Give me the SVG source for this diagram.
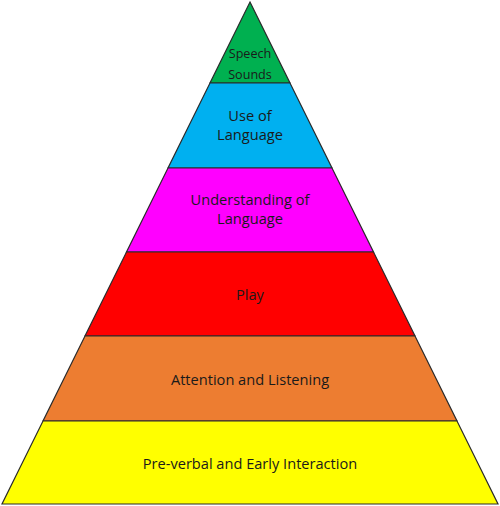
<svg xmlns="http://www.w3.org/2000/svg" width="500" height="506" viewBox="0 0 500 506">
<style>
.lvl{stroke:#2a2a2a;stroke-width:1.2;stroke-linejoin:miter}
text{font-family:"Open Sans","Liberation Sans",sans-serif;font-size:14.6px;fill:#1a1a1a;text-anchor:middle}
.sm{font-size:12.6px}
</style>
<rect width="500" height="506" fill="#ffffff"/>
<g id="speech-sounds">
<polygon class="lvl" points="250,2 290,83 210,83" fill="#00b050"/>
<text class="sm" x="250" y="58">Speech</text>
<text class="sm" x="250" y="79">Sounds</text>
</g>
<g id="use-of-language">
<polygon class="lvl" points="210,83 290,83 332,168 168,168" fill="#00b0f0"/>
<text x="250" y="121">Use of</text>
<text x="250" y="140">Language</text>
</g>
<g id="understanding-of-language">
<polygon class="lvl" points="168,168 332,168 373.5,252 126.5,252" fill="#ff00ff"/>
<text x="250" y="205">Understanding of</text>
<text x="250" y="224">Language</text>
</g>
<g id="play">
<polygon class="lvl" points="126.5,252 373.5,252 415,336 85,336" fill="#ff0000"/>
<text x="250" y="300">Play</text>
</g>
<g id="attention-and-listening">
<polygon class="lvl" points="85,336 415,336 457,421 43,421" fill="#ed7d31"/>
<text x="250" y="385">Attention and Listening</text>
</g>
<g id="pre-verbal">
<polygon class="lvl" points="43,421 457,421 498,504 2,504" fill="#ffff00"/>
<text x="250" y="469">Pre-verbal and Early Interaction</text>
</g>
<g id="connectors"/>
</svg>
